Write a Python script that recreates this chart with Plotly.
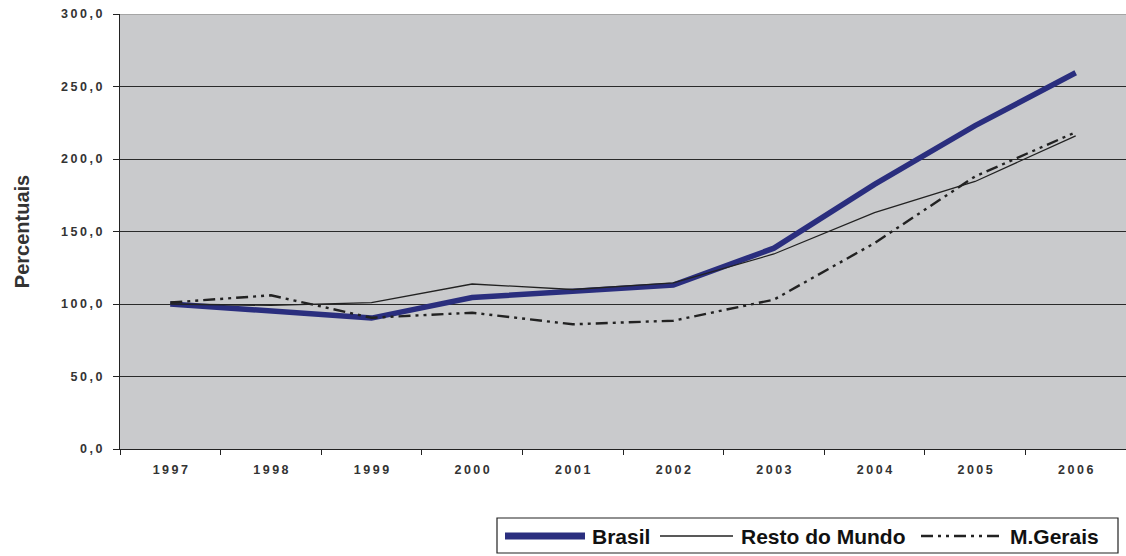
import plotly.graph_objects as go

anos = ["1997", "1998", "1999", "2000", "2001", "2002", "2003", "2004", "2005", "2006"]
brasil = [100.0, 95.2, 90.3, 104.5, 109.0, 113.0, 138.5, 182.5, 223.0, 259.5]
resto_mundo = [100.0, 99.0, 101.0, 113.8, 110.0, 114.5, 134.5, 163.0, 184.5, 216.0]
m_gerais = [101.0, 106.0, 90.5, 94.0, 86.0, 88.5, 103.0, 142.0, 188.0, 218.5]

y_ticks = [0, 50, 100, 150, 200, 250, 300]
y_labels = ["0,0", "50,0", "100,0", "150,0", "200,0", "250,0", "300,0"]

series = [
    ("Brasil", brasil, dict(color="#2a2e7e", width=5.5)),
    ("Resto do Mundo", resto_mundo, dict(color="#222222", width=1.3)),
    ("M.Gerais", m_gerais, dict(color="#222222", width=2.4, dash="12px,5px,3px,5px,3px,5px")),
]

def spaced(s):
    return "\u2009".join(s)

W, H = 1126, 556
L, R, T, B = 120, 0, 14, 107
PW, PH = W - L - R, H - T - B

def px(x):
    return (x - L) / PW

def py(y):
    return (H - B - y) / PH

fig = go.Figure()
for name, vals, line in series:
    fig.add_trace(go.Scatter(x=anos, y=vals, name=name, mode="lines", line=line,
                             showlegend=False))

fig.update_layout(
    width=W, height=H,
    margin=dict(l=L, r=R, t=T, b=B, autoexpand=False),
    paper_bgcolor="white",
    plot_bgcolor="#c9cacc",
    font=dict(family="Liberation Sans, Arial, sans-serif", color="#333333"),
    showlegend=False,
    xaxis=dict(
        type="category",
        tickmode="array",
        tickvals=anos,
        ticktext=[spaced(a) for a in anos],
        tickson="boundaries",
        ticks="outside", ticklen=5, tickcolor="#222222", tickwidth=1,
        ticklabelstandoff=9,
        showline=True, linecolor="#222222", linewidth=1.2,
        showgrid=False,
        tickfont=dict(size=12.5, color="#333333", weight="bold"),
        range=[-0.5, 9.5],
    ),
    yaxis=dict(
        range=[0, 300],
        tickmode="array",
        tickvals=y_ticks,
        ticktext=[spaced(t) for t in y_labels],
        ticks="outside", ticklen=6, tickcolor="#222222", tickwidth=1,
        ticklabelstandoff=8,
        showline=True, linecolor="#222222", linewidth=1.2,
        showgrid=True, gridcolor="#2a2a2a", gridwidth=1,
        zeroline=False,
        tickfont=dict(size=12.5, color="#333333", weight="bold"),
        title=dict(text="Percentuais", font=dict(size=20, color="#333333", weight="bold"),
                   standoff=26),
    ),
)

# top border of plot area
fig.add_shape(type="line", xref="paper", yref="y", x0=0, x1=1, y0=300, y1=300,
              line=dict(color="#999999", width=1.5))

# legend box (manual, to match the original layout)
fig.add_shape(type="rect", xref="paper", yref="paper",
              x0=px(497), x1=px(1118), y0=py(518), y1=py(553),
              line=dict(color="#222222", width=1.2), fillcolor="white", layer="above")

legend_items = [
    # (name, line start px, line end px, text start px, line style)
    (series[0][0], 505, 585, 590, dict(color="#2a2e7e", width=7)),
    (series[1][0], 660, 733, 739, dict(color="#222222", width=1.3)),
    (series[2][0], 921, 1002, 1008, dict(color="#222222", width=2.4, dash="12px,5px,3px,5px,3px,5px")),
]
ly = 536
for name, x0, x1, xt, lstyle in legend_items:
    fig.add_shape(type="line", xref="paper", yref="paper",
                  x0=px(x0), x1=px(x1), y0=py(ly), y1=py(ly), line=lstyle, layer="above")
    fig.add_annotation(xref="paper", yref="paper", x=px(xt), y=py(ly),
                       xanchor="left", yanchor="middle", showarrow=False,
                       text=name,
                       font=dict(size=21, color="#111111", weight="bold",
                                 family="Liberation Sans, Arial, sans-serif"))

fig.write_html("out.html")
